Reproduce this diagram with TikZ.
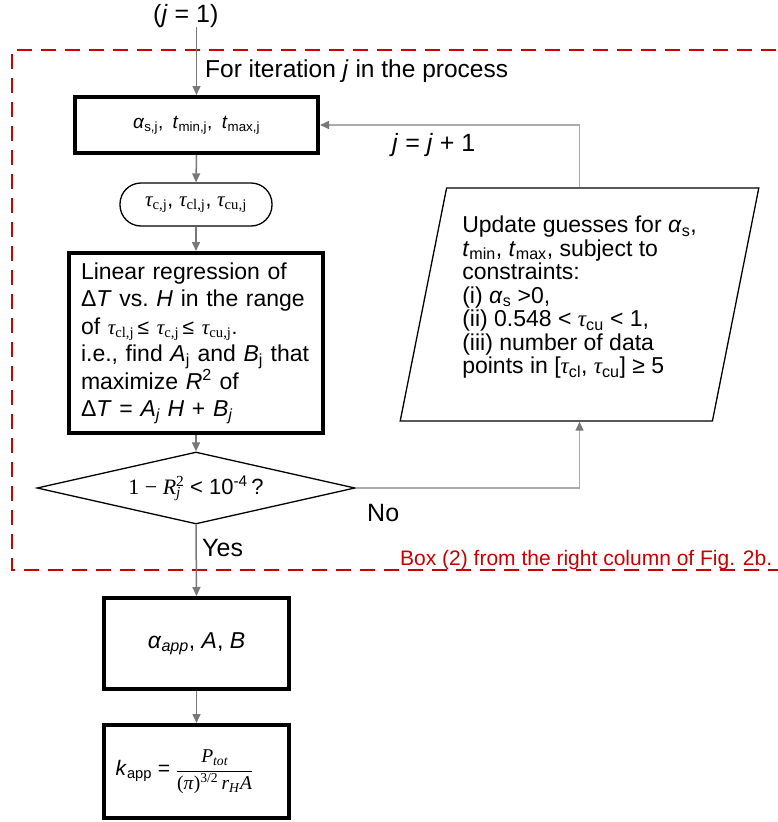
\RequirePackage{fix-cm}
\documentclass[tikz,border=0pt]{standalone}
\usepackage{fontspec}
\setmainfont{Liberation Sans}
\newfontfamily\tms{Liberation Serif}
\usetikzlibrary{shapes.geometric,arrows.meta}
\definecolor{frame}{RGB}{200,0,0}
\definecolor{conngray}{RGB}{120,120,120}
\definecolor{loopgray}{RGB}{170,170,170}
\newcommand{\tauI}{{\tms\itshape τ}}
\newcommand{\sbs}[1]{\textsubscript{#1}}
\newcommand{\sbt}[1]{\textsubscript{\tms #1}}
\begin{document}
\begin{tikzpicture}[x=1pt,y=-1pt,
  tbox/.style={draw=black, line width=4pt, fill=white, inner sep=0pt, align=center},
  termbox/.style={draw=black, line width=1.3pt, fill=white, rounded corners=21pt, inner sep=0pt,
     minimum width=152pt, minimum height=43pt, font=\fontsize{21}{24}\selectfont},
  decbox/.style={diamond, draw=black, line width=1.3pt, fill=white, inner sep=0pt, aspect=4.42,
     minimum width=318pt, minimum height=72pt, font=\fontsize{22}{26}\selectfont},
  iobox/.style={trapezium, draw=black, line width=1.3pt, fill=white, inner sep=0pt,
     trapezium left angle=77, trapezium right angle=103, trapezium stretches=true,
     minimum width=359pt, minimum height=233pt, align=left,
     font=\fontsize{23}{23.5}\selectfont},
  conn/.style={draw=conngray, line width=1.5pt, -{Triangle[length=9pt,width=8pt]}},
  loopline/.style={draw=loopgray, line width=1.4pt, -{Triangle[length=9pt,width=8pt,color=conngray]}},
  lbl/.style={inner sep=0pt, anchor=base west},
  redframe/.style={draw=frame, line width=2.2pt, dash pattern=on 15pt off 9pt}
]
\useasboundingbox (0,0) rectangle (778,822);

% dashed frame of box (2)
\draw[redframe] (800,50) -- (12,50) -- (12,570) -- (800,570);

% nodes
\node[lbl, font=\fontsize{25}{30}\selectfont] (j1) at (153,22) {(\textit{j} = 1)};
\node[tbox, minimum width=243pt, minimum height=56pt, font=\fontsize{19}{23}\selectfont] (b1) at (196.5,125)
  {\textit{α}\sbs{s,j},\hspace{4pt} \textit{t}\sbs{min,j},\hspace{4pt} \textit{t}\sbs{max,j}};
\node[termbox] (term) at (196,204.5) {\tauI\sbt{c,j}, \tauI\sbt{cl,j}, \tauI\sbt{cu,j}};
\node[tbox, minimum width=254pt, minimum height=180pt, text width=230pt, align=left,
      font=\fontsize{23}{27.5}\selectfont] (b2) at (196,343)
  {Linear regression of\\
   Δ\textit{T} vs.\ \textit{H} in the range\\
   of {\fontsize{21}{24}\selectfont\tauI\sbt{cl,j}\,≤ \tauI\sbt{c,j}\,≤ \tauI\sbt{cu,j}.}\\
   i.e., find \textit{A}\sbs{j} and \textit{B}\sbs{j} that\\
   maximize \textit{R}\textsuperscript{2} of\\
   Δ\textit{T} = \textit{A\sbs{j}} \textit{H} + \textit{B\sbs{j}}};
\node[decbox] (diam) at (196,488)
  {{\tms 1 − \textit{R}\rlap{\textsuperscript{2}}\textsubscript{\textit{j}}}\hspace{3pt} < 10\textsuperscript{-4}\,?};
\node[iobox] (para) at (579.5,304.5)
  {\raisebox{0pt}[0pt][0pt]{}Update guesses for \textit{α}\sbs{s},\\
   \textit{t}\sbs{min}, \textit{t}\sbs{max}, subject to\\
   constraints:\\
   (i) \textit{α}\sbs{s} >0,\\
   (ii) 0.548 < \tauI\sbs{cu} < 1,\\
   (iii) number of data\\
   points in [\tauI\sbs{cl}, \tauI\sbs{cu}] ≥ 5\\[-4pt]};
\node[tbox, minimum width=185pt, minimum height=91pt, font=\fontsize{23}{27}\selectfont] (b3) at (196.5,643.5)
  {\textit{α}\textsubscript{\textit{app}}, \textit{A}, \textit{B}};
\node[tbox, minimum width=185pt, minimum height=93pt, font=\fontsize{21}{25}\selectfont] (b4) at (196.5,771.5)
  {\hspace*{-24pt}\textit{k}\sbs{app} = {\fontsize{19.5}{22}\selectfont$\displaystyle
    \frac{\mbox{\tms\itshape P\textsubscript{tot}}}{\mbox{\tms(\textit{π})\textsuperscript{3/2}\,\textit{r}\textsubscript{\textit{H}}\textit{A}}}$}};

% labels
\node[lbl, font=\fontsize{24.5}{29}\selectfont] (iter) at (205,77) {For iteration \textit{j} in the process};
\node[lbl, font=\fontsize{25}{30}\selectfont] (inc) at (392,151) {\textit{j} = \textit{j} + 1};
\node[lbl, font=\fontsize{25}{30}\selectfont] (no) at (367,521) {No};
\node[lbl, font=\fontsize{25}{30}\selectfont] (yes) at (202,556) {Yes};
\node[lbl, font=\fontsize{21}{26}\selectfont, text=frame] (boxlbl) at (400,565) {Box (2) from the right column of Fig. 2b.};

% connectors
\draw[conn] (b1.north |- j1.south) -- (b1.north);
\draw[conn] (b1.south) -- (term.north);
\draw[conn] (term.south) -- (b2.north);
\draw[conn] (b2.south) -- (diam.north);
\draw[conn] (diam.south) -- (b3.north);
\draw[conn] (b3.south) -- (b4.north);
\draw[loopline] (diam.east) -| (para.south);
\draw[loopline] (para.north) |- (b1.east);
\end{tikzpicture}
\end{document}
